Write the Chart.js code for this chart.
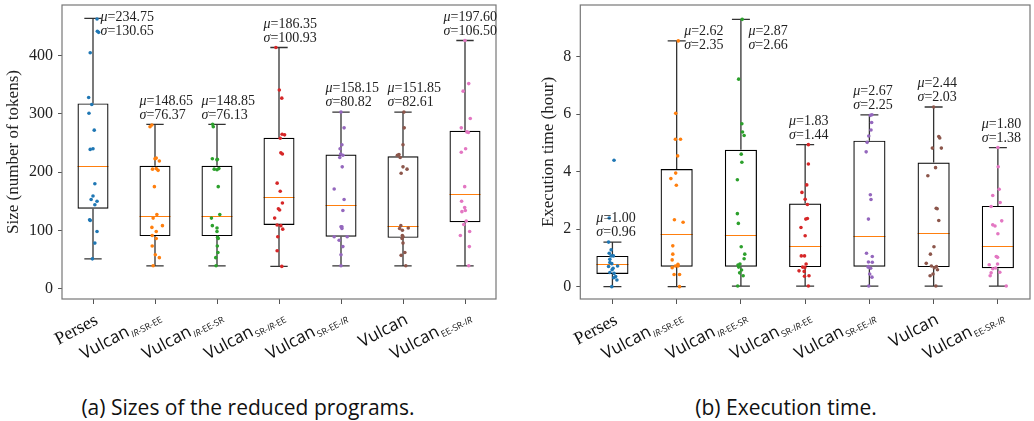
<!DOCTYPE html>
<html><head><meta charset="utf-8">
<script src="https://cdn.jsdelivr.net/npm/chart.js@4/dist/chart.umd.min.js"></script>
<style>
html,body{margin:0;padding:0;background:#fff;width:1034px;height:421px;overflow:hidden;position:relative;}
canvas{position:absolute;top:0;}
#cA{left:0px} #cB{left:518px}
.cap{position:absolute;top:393px;font-family:'Open Sans';font-size:21px;line-height:28px;color:#111;white-space:nowrap;transform:translateX(-50%);}
</style></head><body>
<canvas id="cA" width="516" height="380"></canvas>
<canvas id="cB" width="516" height="380"></canvas>
<div class="cap" style="left:248px">(a) Sizes of the reduced programs.</div>
<div class="cap" style="left:786px">(b) Execution time.</div>
<script>
// ---------- categories / tick labels ----------
const labelMain = ['Perses','Vulcan','Vulcan','Vulcan','Vulcan','Vulcan','Vulcan'];
const labelSub  = ['','IR-SR-EE','IR-EE-SR','SR-IR-EE','SR-EE-IR','','EE-SR-IR'];
const seriesColors = ['#1f77b4','#ff7f0e','#2ca02c','#d62728','#9467bd','#8c564b','#e377c2'];
const sizeTicks = [0,100,200,300,400];
const timeTicks = [0,2,4,6,8];

// ---------- (a) sizes ----------
const sizeLow    = [51,39,39,38,39,39,39];
const sizeQ1     = [137,90,90,109,89,87,114];
const sizeMedian = [210,124,124,157,144,107,162];
const sizeQ3     = [318,211,211,259,230,227,271];
const sizeHigh   = [464,282,282,414,303,303,426];
const sizeMean   = [234.75,148.65,148.85,186.35,158.15,151.85,197.60];
const sizeStd    = [130.65,76.37,76.13,100.93,80.82,82.61,106.50];
const sizePoints = [
  [463,442,440,405,328,316,301,272,240,239,180,159,153,150,144,118,117,98,78,51],
  [281,278,224,223,219,206,205,203,175,127,121,108,105,98,91,86,73,58,53,39],
  [282,278,223,222,221,206,205,204,175,127,121,108,104,98,88,86,73,62,53,39],
  [414,341,327,265,264,258,233,231,181,167,147,137,135,121,109,108,102,89,65,38],
  [303,276,247,240,231,229,225,209,171,153,134,106,106,103,89,89,83,72,58,39],
  [303,276,247,230,229,225,209,205,198,108,104,103,100,91,89,86,78,62,57,39],
  [426,352,339,292,276,269,268,240,234,175,150,139,134,132,116,110,98,91,72,39]
];
const sizeJitter = [
  [0.065,0.07,0.09,-0.045,-0.07,-0.02,-0.065,0.02,0,-0.045,0.03,0,-0.03,0.065,0.03,-0.055,-0.045,0.065,0.03,-0.01],
  [-0.05,-0.08,0.02,0,0.07,0.02,-0.04,0.05,-0.01,0.03,-0.03,0.12,-0.05,0.02,-0.045,0.02,-0.045,0.005,0.07,-0.03],
  [-0.07,-0.06,-0.075,0.005,0,0.03,-0.045,0,0.02,0.045,-0.09,-0.075,0,0,0.01,0.02,0.005,0.015,-0.02,-0.015],
  [-0.05,0.005,0.045,0.05,0.09,0.02,0.03,0.055,-0.03,0.02,0.055,-0.01,0.01,-0.07,-0.03,0.03,0.06,-0.02,-0.03,0.045],
  [0,0.05,0.015,-0.015,-0.005,0.03,-0.02,0.02,-0.11,0.05,0.03,0,0.015,0.015,-0.11,0.1,-0.03,0.03,0,0],
  [0.015,0.02,0,-0.065,-0.09,-0.045,0,0.065,-0.03,-0.035,0.085,-0.055,-0.01,-0.01,0,-0.015,0,0.03,-0.03,0.045],
  [0,0.06,-0.03,0.085,-0.06,0.03,0.055,0.01,-0.06,-0.005,-0.055,-0.005,0.005,-0.05,0.02,-0.02,0.075,-0.075,0.07,0.06]
];

// ---------- (b) execution time ----------
const timeLow    = [0,0,0.02,0.02,0.02,0.02,0.02];
const timeQ1     = [0.44,0.69,0.69,0.68,0.69,0.68,0.64];
const timeMedian = [0.78,1.83,1.79,1.42,1.75,1.85,1.43];
const timeQ3     = [1.07,4.09,4.76,2.89,5.08,4.32,2.81];
const timeHigh   = [1.55,8.55,9.30,4.94,5.98,6.25,4.84];
const timeMean   = [1.00,2.62,2.87,1.83,2.67,2.44,1.80];
const timeStd    = [0.96,2.35,2.66,1.44,2.25,2.03,1.38];
const timePoints = [
  [4.40,2.39,1.55,1.28,1.16,1.07,1.07,0.95,0.84,0.80,0.72,0.70,0.64,0.59,0.49,0.46,0.35,0.31,0.23,0.00],
  [8.55,6.03,5.13,5.13,4.55,3.95,3.76,3.53,2.33,2.24,1.42,1.13,0.93,0.78,0.72,0.72,0.66,0.42,0.42,0.00],
  [9.30,7.22,5.67,5.38,5.26,4.61,4.33,3.72,2.54,2.20,1.39,1.13,0.97,0.79,0.75,0.68,0.58,0.48,0.38,0.02],
  [4.94,4.27,3.54,3.28,3.04,2.86,2.37,2.35,2.06,1.77,1.07,1.07,0.79,0.68,0.67,0.55,0.53,0.38,0.36,0.02],
  [5.98,5.96,5.71,5.45,5.24,5.02,4.69,3.20,3.03,2.35,1.16,1.05,0.86,0.85,0.70,0.68,0.64,0.44,0.33,0.02],
  [6.25,5.22,5.17,4.82,4.82,4.14,3.86,2.73,2.71,2.30,1.39,1.13,0.81,0.72,0.70,0.66,0.59,0.44,0.38,0.02],
  [4.84,4.17,3.39,3.17,2.93,2.79,2.29,2.15,2.11,1.84,1.05,1.02,0.79,0.76,0.65,0.62,0.50,0.48,0.38,0.02]
];
const timeJitter = [
  [0.025,-0.05,-0.06,-0.02,-0.05,0.015,-0.02,-0.04,-0.04,-0.01,0.08,-0.06,0.01,-0.005,-0.04,0.025,0.05,0.02,0.07,-0.01],
  [0.025,-0.015,-0.02,0.06,0.015,-0.015,-0.09,-0.005,-0.035,0.1,-0.06,-0.06,-0.07,0.02,0.02,-0.02,-0.07,-0.04,0.045,0.045],
  [0.02,-0.035,0.015,0.025,0.05,0.005,0.015,-0.055,-0.055,-0.04,0.005,0.06,0.05,-0.015,-0.045,-0.035,0.01,-0.02,0.035,-0.05],
  [0.05,0.05,0.025,-0.05,0,0.035,0.035,0.01,-0.065,0,-0.06,-0.01,0.015,-0.04,-0.005,-0.095,-0.015,0.06,-0.01,0.05],
  [0.04,0.015,0.035,0.025,-0.01,-0.035,-0.05,0.015,0.025,-0.015,-0.045,0.045,-0.015,0.045,-0.015,-0.02,0.02,0.005,0.04,-0.01],
  [0,0.08,0.095,-0.02,0.12,0.03,-0.09,0.04,0.055,0.08,0.005,-0.05,-0.115,-0.035,0.045,0.01,0.06,-0.01,-0.055,0.035],
  [0,0.005,0.02,-0.08,0.035,-0.105,0.06,-0.08,-0.045,0,-0.025,-0.005,-0.005,-0.135,-0.035,-0.08,0.03,-0.105,-0.12,0.13]
];

// ---------- layout / drawing ----------
const FONT_SERIF = '"Liberation Serif", "DejaVu Serif", serif';
const FONT_SANS = '"Open Sans", "DejaVu Sans", sans-serif';
const snap = v => Math.round(v) + 0.5;

function extrasPlugin(p) {
  return {
    id: 'boxExtras',
    beforeDatasetsDraw(chart) {
      const ctx = chart.ctx, xs = chart.scales.x, ys = chart.scales.y;
      ctx.save();
      for (let i = 0; i < p.low.length; i++) {
        const xc = xs.getPixelForValue(i + 1);
        const hw = xs.getPixelForValue(i + 1 + 0.14) - xc;
        const bw = xs.getPixelForValue(i + 1 + 0.25) - xc;
        ctx.strokeStyle = '#333'; ctx.lineWidth = 1.3;
        ctx.beginPath();
        ctx.moveTo(xc, ys.getPixelForValue(p.low[i])); ctx.lineTo(xc, ys.getPixelForValue(p.q1[i]));
        ctx.moveTo(xc, ys.getPixelForValue(p.q3[i])); ctx.lineTo(xc, ys.getPixelForValue(p.high[i]));
        const yl = ys.getPixelForValue(p.low[i]), yh = ys.getPixelForValue(p.high[i]);
        ctx.moveTo(xc - hw, yl); ctx.lineTo(xc + hw, yl);
        ctx.moveTo(xc - hw, yh); ctx.lineTo(xc + hw, yh);
        ctx.stroke();
        ctx.strokeStyle = '#ff7f0e'; ctx.lineWidth = 1;
        const ym = snap(ys.getPixelForValue(p.median[i]));
        ctx.beginPath(); ctx.moveTo(xc - bw, ym); ctx.lineTo(xc + bw, ym); ctx.stroke();
      }
      ctx.restore();
    },
    afterDraw(chart) {
      const ctx = chart.ctx, xs = chart.scales.x, ys = chart.scales.y, ca = chart.chartArea;
      ctx.save();
      // frame
      ctx.strokeStyle = '#777'; ctx.lineWidth = 1.2;
      ctx.strokeRect(ca.left, ca.top, ca.right - ca.left, ca.bottom - ca.top);
      // mean / std annotations
      const fs = 14, fsz = fs + 'px ' + FONT_SERIF, fsi = 'italic ' + fs + 'px ' + FONT_SERIF;
      ctx.fillStyle = '#222'; ctx.textBaseline = 'middle'; ctx.textAlign = 'left';
      for (let i = 0; i < p.mean.length; i++) {
        const l1 = '=' + p.mean[i].toFixed(2), l2 = '=' + p.std[i].toFixed(2);
        ctx.font = fsi; const gm = ctx.measureText('\u03bc').width, gs = ctx.measureText('\u03c3').width;
        ctx.font = fsz; const w = Math.max(gm + ctx.measureText(l1).width, gs + ctx.measureText(l2).width);
        let x0, y1, y2;
        if (p.side[i] !== null) {
          x0 = xs.getPixelForValue(i + 1) + 7.5;
          const yc = ys.getPixelForValue(p.side[i]);
          y1 = yc - 7; y2 = yc + 7;
        } else {
          x0 = xs.getPixelForValue(i + 1 - 0.25);
          const yc = ys.getPixelForValue(p.high[i]);
          y1 = yc - 23.5; y2 = yc - 9.5;
        }
        if (x0 + w > ca.right + 1) x0 = ca.right + 1 - w;
        ctx.font = fsi; ctx.fillText('\u03bc', x0, y1); ctx.fillText('\u03c3', x0, y2);
        ctx.font = fsz; ctx.fillText(l1, x0 + gm, y1); ctx.fillText(l2, x0 + gs, y2);
      }
      // rotated category labels with subscripts
      const ang = 28 * Math.PI / 180, c = Math.cos(ang), s = Math.sin(ang);
      for (let i = 0; i < labelMain.length; i++) {
        const main = labelMain[i], sub = labelSub[i];
        const serif = main === 'Perses';
        const mSize = serif ? 18 : 17;
        const mFont = mSize + 'px ' + (serif ? FONT_SERIF : FONT_SANS);
        ctx.font = mFont; const mw = ctx.measureText(main).width;
        const segs = sub ? sub.split(/(IR)/).filter(t => t.length).map(t => ({t, font: (t === 'IR' ? 'italic ' : '') + '9px ' + FONT_SANS})) : [];
        let x = mw + (sub ? 1 : 0);
        segs.forEach(sg => { ctx.font = sg.font; sg.x = x; x += ctx.measureText(sg.t).width; });
        const W = x, A = mSize * 0.72, subOff = 3.5, subA = 9 * 0.72;
        const pts = [[0, -A], [mw, -A], [0, 0], [mw, 0]];
        if (sub) pts.push([mw, subOff - subA], [W, subOff - subA], [W, subOff], [mw, subOff]);
        let maxX = -1e9, minY = 1e9;
        pts.forEach(([px, py]) => { maxX = Math.max(maxX, px * c + py * s); minY = Math.min(minY, -px * s + py * c); });
        const tick = xs.getPixelForValue(i + 1);
        const ox = tick + (sub ? 8 : 6) - maxX, oy = (sub ? 316 : 312) - minY;
        ctx.save(); ctx.translate(ox, oy); ctx.rotate(-ang);
        ctx.fillStyle = '#111'; ctx.textBaseline = 'alphabetic'; ctx.textAlign = 'left';
        ctx.font = mFont; ctx.fillText(main, 0, 0);
        segs.forEach(sg => { ctx.font = sg.font; ctx.fillText(sg.t, sg.x, subOff); });
        ctx.restore();
      }
      ctx.restore();
    }
  };
}

function makePanel(id, p) {
  const datasets = [{
    type: 'bar',
    data: p.q1.map((q, i) => ({x: i + 1, y: [q, p.q3[i]]})),
    backgroundColor: 'rgba(0,0,0,0)', borderColor: '#000', borderWidth: 1.2, borderSkipped: false,
    barPercentage: 0.5, categoryPercentage: 1, order: 2
  }];
  p.points.forEach((vals, i) => datasets.push({
    type: 'scatter',
    data: vals.map((v, k) => ({x: i + 1 + p.jitter[i][k], y: v})),
    backgroundColor: seriesColors[i], borderColor: seriesColors[i],
    pointRadius: 1.8, pointBorderWidth: 0, order: 1
  }));
  return new Chart(document.getElementById(id), {
    type: 'bar',
    data: {datasets},
    options: {
      responsive: false, animation: false, devicePixelRatio: 1, events: [],
      layout: {padding: {top: 5, left: 0, right: p.padRight, bottom: 0}},
      plugins: {legend: {display: false}, tooltip: {enabled: false}},
      scales: {
        x: {
          type: 'linear', min: 0.5, max: 7.5, offset: false,
          afterBuildTicks: s => { s.ticks = labelMain.map((_, i) => ({value: i + 1})); },
          afterFit: s => { s.height = 81; s.paddingLeft = 0; s.paddingRight = 0; },
          ticks: {display: true, callback: () => ''},
          grid: {offset: false, drawOnChartArea: false, drawTicks: true, tickLength: 5, color: '#555'},
          border: {display: false}
        },
        y: {
          type: 'linear', min: p.ymin, max: p.ymax,
          afterBuildTicks: s => { s.ticks = p.ticks.map(v => ({value: v})); },
          afterFit: s => { s.width = p.yWidth; s.paddingTop = 0; s.paddingBottom = 0; },
          ticks: {font: {family: FONT_SERIF, size: 16}, color: '#222', padding: 5, callback: v => String(v)},
          grid: {drawOnChartArea: false, drawTicks: true, tickLength: 4, color: '#555'},
          border: {display: false},
          title: {display: true, text: p.yTitle, font: {family: FONT_SERIF, size: 17}, color: '#222', padding: {top: p.titlePad, bottom: 0}}
        }
      }
    },
    plugins: [extrasPlugin(p)]
  });
}

makePanel('cA', {
  low: sizeLow, q1: sizeQ1, median: sizeMedian, q3: sizeQ3, high: sizeHigh,
  mean: sizeMean, std: sizeStd, points: sizePoints, jitter: sizeJitter,
  side: [453, null, null, null, null, null, null],
  ticks: sizeTicks, ymin: -18, ymax: 487, yWidth: 62, padRight: 20, titlePad: 3,
  yTitle: 'Size (number of tokens)'
});
makePanel('cB', {
  low: timeLow, q1: timeQ1, median: timeMedian, q3: timeQ3, high: timeHigh,
  mean: timeMean, std: timeStd, points: timePoints, jitter: timeJitter,
  side: [null, 8.65, 8.65, null, null, null, null],
  ticks: timeTicks, ymin: -0.43, ymax: 9.80, yWidth: 62.3, padRight: 3, titlePad: 20,
  yTitle: 'Execution time (hour)'
});
</script>
</body></html>
